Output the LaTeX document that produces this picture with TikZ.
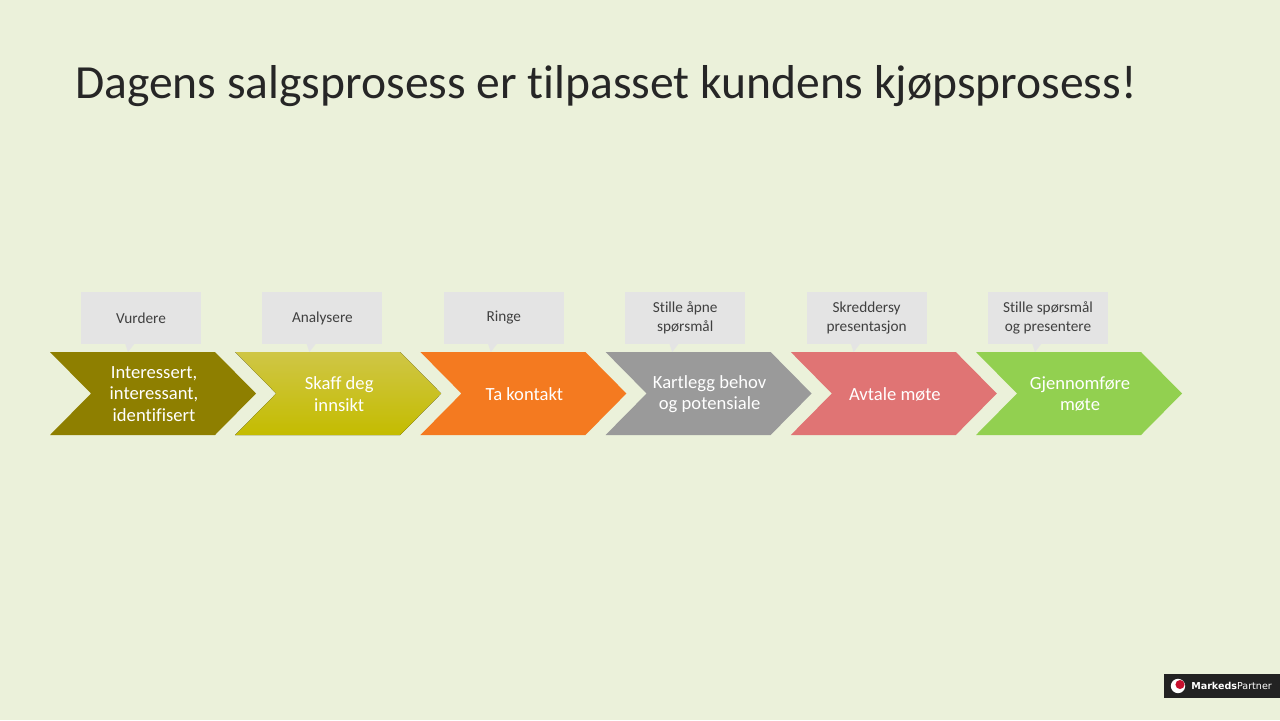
\documentclass[tikz,border=0pt]{standalone}
\usepackage{fontspec}
\setmainfont{Carlito}[Ligatures=NoCommon]
\newfontfamily\logofont{DejaVu Sans}

\definecolor{slidebg}{HTML}{EBF1DA}
\definecolor{titlegray}{HTML}{262626}
\definecolor{notegray}{HTML}{E4E4E4}
\definecolor{notetext}{HTML}{404040}
\definecolor{olivestep}{HTML}{8E7F00}
\definecolor{yellowtop}{HTML}{CFC646}
\definecolor{yellowbot}{HTML}{C4BC00}
\definecolor{orangestep}{HTML}{F47A20}
\definecolor{graystep}{HTML}{9A9A9A}
\definecolor{redstep}{HTML}{E07474}
\definecolor{greenstep}{HTML}{92D050}
\definecolor{logobg}{HTML}{222222}
\definecolor{logored}{HTML}{C8102E}

\tikzset{
  ch1/.style={fill=olivestep},
  ch2/.style={top color=yellowtop, bottom color=yellowbot},
  ch3/.style={fill=orangestep},
  ch4/.style={fill=graystep},
  ch5/.style={fill=redstep},
  ch6/.style={fill=greenstep},
  steptext/.style={text=white, align=center, inner sep=0pt,
    font=\fontsize{14}{16}\selectfont},
  note/.style={fill=notegray, text=notetext, align=center,
    minimum width=3.175cm, minimum height=1.376cm, inner sep=0pt,
    font=\fontsize{11.5}{14}\selectfont},
}

\begin{document}
\begin{tikzpicture}[x=0.026458cm, y=-0.026458cm]
\fill[slidebg] (0,0) rectangle (1280,720);
\useasboundingbox (0,0) rectangle (1280,720);

\node[anchor=base west, inner sep=0pt, text=titlegray,
  font=\fontsize{35.8}{43}\selectfont] (title) at (75,98)
  {Dagens salgsprosess er tilpasset kundens kjøpsprosess!};

% chevrons
\foreach \txt [count=\i, evaluate=\i as \L using {50+185.2*(\i-1)}] in
  {{Interessert,\\interessant,\\identifisert}, {Skaff deg\\innsikt},
   {Ta kontakt}, {Kartlegg behov\\og potensiale}, {Avtale møte},
   {Gjennomføre\\møte}}{
  \fill[ch\i] (\L,352) -- ++(165,0) -- ++(41,41.5) -- ++(-41,41.5)
    -- ++(-165,0) -- ++(41,-41.5) -- cycle;
  \node[steptext] (s\i) at (\L+104,394) {\txt};
}

% callouts
\foreach \txt [count=\i, evaluate=\i as \Q using {81+181.4*(\i-1)}] in
  {Vurdere, Analysere, Ringe, {Stille åpne\\spørsmål},
   {Skreddersy\\presentasjon}, {Stille spørsmål\\og presentere}}{
  \node[note] (n\i) at (\Q+60,318) {\txt};
  \fill[notegray] (\Q+44,343) -- (\Q+47,352) -- (\Q+54,343) -- cycle;
}

% logo
\fill[logobg] (1164,674) rectangle (1280,698);
\fill[white] (1178,686) circle (0.19cm);
\fill[logored] (1180,684.5) circle (0.12cm);
\node[anchor=west, inner sep=0pt, text=white,
  font=\logofont\fontsize{7.2}{8}\selectfont] (logo) at (1191,686)
  {\textbf{Markeds}Partner};
\end{tikzpicture}
\end{document}
